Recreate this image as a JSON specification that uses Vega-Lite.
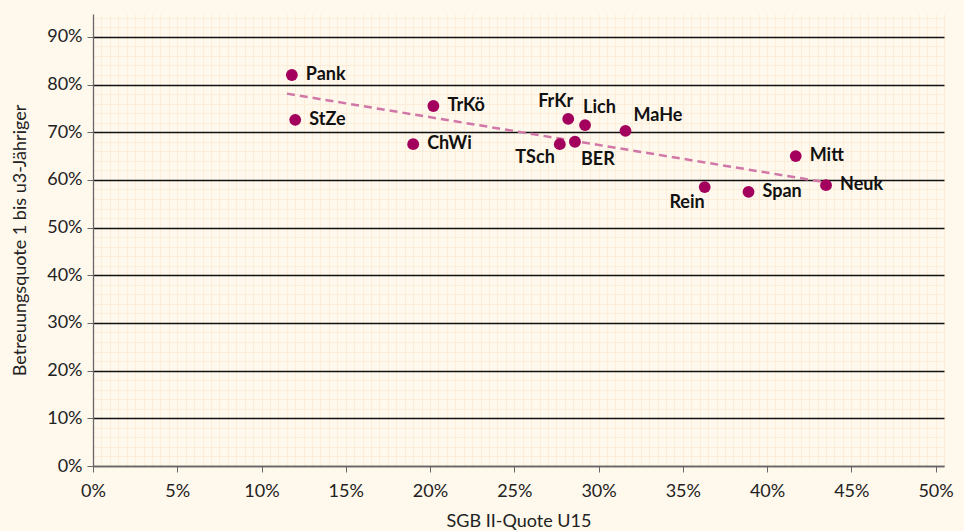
{
  "$schema": "https://vega.github.io/schema/vega-lite/v6.json",
  "width": 851,
  "height": 452,
  "autosize": {"type": "none"},
  "padding": {"left": 93, "top": 14, "right": 20, "bottom": 65},
  "background": "#fff8ec",
  "config": {
    "view": {"stroke": null},
    "font": "Lato",
    "axis": {"labelFont": "Lato", "titleFont": "Lato"}
  },
  "datasets": {
    "points": [
      {"name": "Pank", "sgb": 0.118, "quote": 0.820},
      {"name": "StZe", "sgb": 0.120, "quote": 0.726},
      {"name": "TrKö", "sgb": 0.202, "quote": 0.755},
      {"name": "ChWi", "sgb": 0.190, "quote": 0.675},
      {"name": "FrKr", "sgb": 0.282, "quote": 0.728},
      {"name": "Lich", "sgb": 0.292, "quote": 0.715},
      {"name": "MaHe", "sgb": 0.316, "quote": 0.703},
      {"name": "TSch", "sgb": 0.277, "quote": 0.675},
      {"name": "BER", "sgb": 0.286, "quote": 0.680},
      {"name": "Mitt", "sgb": 0.417, "quote": 0.650},
      {"name": "Neuk", "sgb": 0.435, "quote": 0.589},
      {"name": "Rein", "sgb": 0.363, "quote": 0.585},
      {"name": "Span", "sgb": 0.389, "quote": 0.575}
    ],
    "trend": [
      {"sgb": 0.1151, "quote": 0.781},
      {"sgb": 0.433, "quote": 0.596}
    ]
  },
  "layer": [
    {
      "data": {"name": "trend"},
      "mark": {"type": "line", "color": "#d077a8", "strokeWidth": 2.5, "strokeDash": [8, 5]},
      "encoding": {
        "x": {"field": "sgb", "type": "quantitative", "scale": {"domain": [0, 0.505], "nice": false, "zero": false},
          "axis": {"orient": "bottom", "tickCount": 101, "grid": true, "gridColor": "#fcedd9", "gridWidth": 1, "labels": false, "ticks": false, "domain": false, "title": null}},
        "y": {"field": "quote", "type": "quantitative", "scale": {"domain": [0, 0.948], "nice": false, "zero": false},
          "axis": {"orient": "left", "tickCount": 50, "grid": true, "gridColor": "#fcedd9", "gridWidth": 1, "labels": false, "ticks": false, "domain": false, "title": null}}
      }
    },
    {
      "data": {"name": "points"},
      "mark": {"type": "circle", "color": "#a2005c", "opacity": 1, "size": 140},
      "encoding": {
        "x": {"field": "sgb", "type": "quantitative",
          "axis": {"orient": "bottom", "values": [0, 0.05, 0.1, 0.15, 0.2, 0.25, 0.3, 0.35, 0.4, 0.45, 0.5], "format": ".0%", "grid": false, "labelFlush": false,
            "domainColor": "#666", "domainWidth": 1.3, "tickColor": "#666", "tickSize": 6, "labelFontSize": 18, "labelColor": "#222", "labelPadding": 10,
            "title": "SGB II-Quote U15", "titleFontSize": 18, "titleFontWeight": "normal", "titleColor": "#222", "titlePadding": 12}},
        "y": {"field": "quote", "type": "quantitative",
          "axis": {"orient": "left", "values": [0, 0.1, 0.2, 0.3, 0.4, 0.5, 0.6, 0.7, 0.8, 0.9], "format": ".0%", "grid": true, "labelFlush": false,
            "gridColor": {"condition": {"test": "datum.value === 0", "value": "#666"}, "value": "#111"}, "gridWidth": 1.3,
            "domainColor": "#666", "domainWidth": 1.3, "tickColor": "#666", "tickSize": 6, "labelFontSize": 18, "labelColor": "#222", "labelPadding": 5,
            "title": "Betreuungsquote 1 bis u3-Jähriger", "titleFontSize": 18, "titleFontWeight": "normal", "titleColor": "#222", "titlePadding": 17}}
      }
    },
    {
      "data": {"name": "points"},
      "transform": [{"filter": {"field": "name", "oneOf": ["Pank", "StZe", "TrKö", "ChWi", "Mitt", "Neuk", "Span"]}}],
      "mark": {"type": "text", "align": "left", "baseline": "middle", "dx": 14, "dy": 0, "fontSize": 18, "fontWeight": "bold", "color": "#111"},
      "encoding": {"x": {"field": "sgb", "type": "quantitative", "axis": null}, "y": {"field": "quote", "type": "quantitative", "axis": null}, "text": {"field": "name"}}
    },
    {
      "data": {"name": "points"},
      "transform": [{"filter": {"field": "name", "equal": "Lich"}}],
      "mark": {"type": "text", "align": "left", "baseline": "middle", "dx": -2, "dy": -17, "fontSize": 18, "fontWeight": "bold", "color": "#111"},
      "encoding": {"x": {"field": "sgb", "type": "quantitative", "axis": null}, "y": {"field": "quote", "type": "quantitative", "axis": null}, "text": {"field": "name"}}
    },
    {
      "data": {"name": "points"},
      "transform": [{"filter": {"field": "name", "equal": "MaHe"}}],
      "mark": {"type": "text", "align": "left", "baseline": "middle", "dx": 8, "dy": -15, "fontSize": 18, "fontWeight": "bold", "color": "#111"},
      "encoding": {"x": {"field": "sgb", "type": "quantitative", "axis": null}, "y": {"field": "quote", "type": "quantitative", "axis": null}, "text": {"field": "name"}}
    },
    {
      "data": {"name": "points"},
      "transform": [{"filter": {"field": "name", "equal": "FrKr"}}],
      "mark": {"type": "text", "align": "right", "baseline": "middle", "dx": 5, "dy": -17, "fontSize": 18, "fontWeight": "bold", "color": "#111"},
      "encoding": {"x": {"field": "sgb", "type": "quantitative", "axis": null}, "y": {"field": "quote", "type": "quantitative", "axis": null}, "text": {"field": "name"}}
    },
    {
      "data": {"name": "points"},
      "transform": [{"filter": {"field": "name", "equal": "TSch"}}],
      "mark": {"type": "text", "align": "right", "baseline": "middle", "dx": -5, "dy": 14, "fontSize": 18, "fontWeight": "bold", "color": "#111"},
      "encoding": {"x": {"field": "sgb", "type": "quantitative", "axis": null}, "y": {"field": "quote", "type": "quantitative", "axis": null}, "text": {"field": "name"}}
    },
    {
      "data": {"name": "points"},
      "transform": [{"filter": {"field": "name", "equal": "BER"}}],
      "mark": {"type": "text", "align": "left", "baseline": "middle", "dx": 6, "dy": 18, "fontSize": 18, "fontWeight": "bold", "color": "#111"},
      "encoding": {"x": {"field": "sgb", "type": "quantitative", "axis": null}, "y": {"field": "quote", "type": "quantitative", "axis": null}, "text": {"field": "name"}}
    },
    {
      "data": {"name": "points"},
      "transform": [{"filter": {"field": "name", "equal": "Rein"}}],
      "mark": {"type": "text", "align": "right", "baseline": "middle", "dx": 0, "dy": 16, "fontSize": 18, "fontWeight": "bold", "color": "#111"},
      "encoding": {"x": {"field": "sgb", "type": "quantitative", "axis": null}, "y": {"field": "quote", "type": "quantitative", "axis": null}, "text": {"field": "name"}}
    }
  ],
  "resolve": {"axis": {"x": "independent", "y": "independent"}}
}
